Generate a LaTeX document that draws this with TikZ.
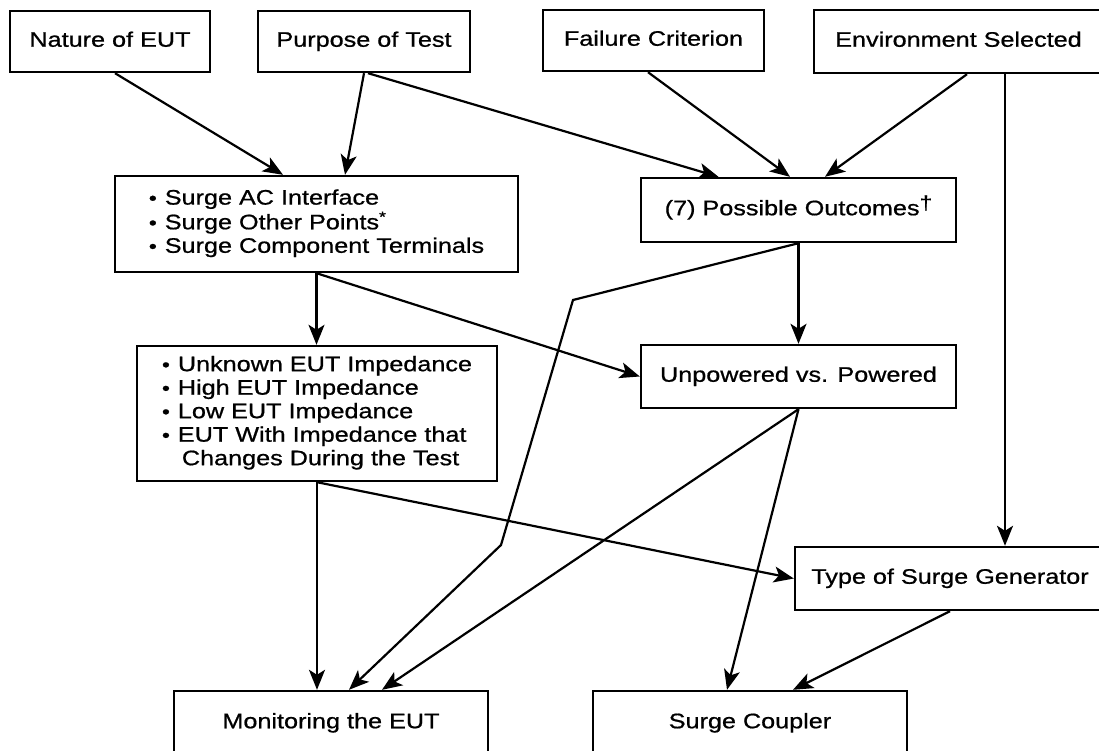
\documentclass[tikz,border=0pt]{standalone}
\usepackage{fontspec}
\setmainfont[FakeStretch=1.2,FakeBold=0.8]{Liberation Sans}
\usetikzlibrary{arrows.meta,calc}
\newcommand{\mybul}{{\fontsize{19}{19}\selectfont\textbullet}}
\begin{document}
\begin{tikzpicture}[x=1pt,y=-1pt,
  box/.style={draw,line width=2.4pt,inner sep=0pt,font=\fontsize{21}{23.5}\selectfont,align=center},
  one/.style={box,text height=15pt,text depth=4.5pt},
  arr/.style={line width=2.2pt,-{Stealth[length=20pt,width=16pt,inset=5pt]}}]
\clip (0,0) rectangle (1099,751);
\fill[white] (0,0) rectangle (1099,751);
% top row
\node[one,minimum width=200pt,minimum height=61pt] (nature) at (110,41.5) {Nature of EUT};
\node[one,minimum width=212pt,minimum height=61pt] (purpose) at (364,41.5) {Purpose of Test};
\node[one,minimum width=221pt,minimum height=61pt] (failure) at (653.5,40.5) {Failure Criterion};
\node[one,minimum width=289pt,minimum height=63pt] (env) at (958.5,41.5) {Environment Selected};
% middle
\node[box,minimum width=403pt,minimum height=96pt] (surge) at (316.5,224) {%
\begin{tabular}{@{}l@{\hspace{8pt}}l@{}}
\mybul & Surge AC Interface\\
\mybul & Surge Other Points\textsuperscript{*}\\
\mybul & Surge Component Terminals
\end{tabular}};
\node[one,minimum width=315pt,minimum height=64pt] (outcomes) at (798.5,210) {(7) Possible Outcomes\raisebox{6pt}{\fontsize{19}{19}\selectfont\textdagger}};
\node[one,minimum width=315pt,minimum height=63pt] (unpowered) at (798.5,376.5) {Unpowered vs. Powered};
\node[box,minimum width=360pt,minimum height=135pt] (imped) at (317,413.5) {%
\begin{tabular}{@{}l@{\hspace{8pt}}l@{}}
\mybul & Unknown EUT Impedance\\
\mybul & High EUT Impedance\\
\mybul & Low EUT Impedance\\
\mybul & EUT With Impedance that\\
 & \hspace{4pt}Changes During the Test
\end{tabular}};
\node[one,minimum width=310pt,minimum height=63pt] (type) at (950,578.5) {Type of Surge Generator};
\node[one,minimum width=314pt,minimum height=64pt] (monitor) at (331,723) {Monitoring the EUT};
\node[one,minimum width=314pt,minimum height=64pt] (coupler) at (750,723) {Surge Coupler};
% connectors
\draw[arr] ([xshift=5pt]nature.south) -- ([xshift=-33.5pt]surge.north);
\draw[arr] ([xshift=0pt]purpose.south) -- ([xshift=28.5pt]surge.north);
\draw[arr] ([xshift=4pt]purpose.south) -- ([xshift=-80pt]outcomes.north);
\draw[arr] ([xshift=-5.5pt]failure.south) -- ([xshift=-8.5pt]outcomes.north);
\draw[arr] ([xshift=8.5pt]env.south) -- ([xshift=26.5pt]outcomes.north);
\draw[arr] ([xshift=46.5pt]env.south) -- ([xshift=55pt]type.north);
\draw[arr] (surge.south) -- (surge.south |- imped.north);
\draw[arr] (surge.south) -- (unpowered.west);
\draw[arr] (outcomes.south) -- (unpowered.north);
\draw[arr] (outcomes.south) -- (573,300) -- (501,545) -- ([xshift=18pt]monitor.north);
\draw[arr] (unpowered.south) -- ([xshift=51pt]monitor.north);
\draw[arr] (unpowered.south) -- ([xshift=-23pt]coupler.north);
\draw[arr] (imped.south) -- (imped.south |- monitor.north);
\draw[arr] (imped.south) -- (type.west);
\draw[arr] (type.south) -- ([xshift=43pt]coupler.north);
\end{tikzpicture}
\end{document}
